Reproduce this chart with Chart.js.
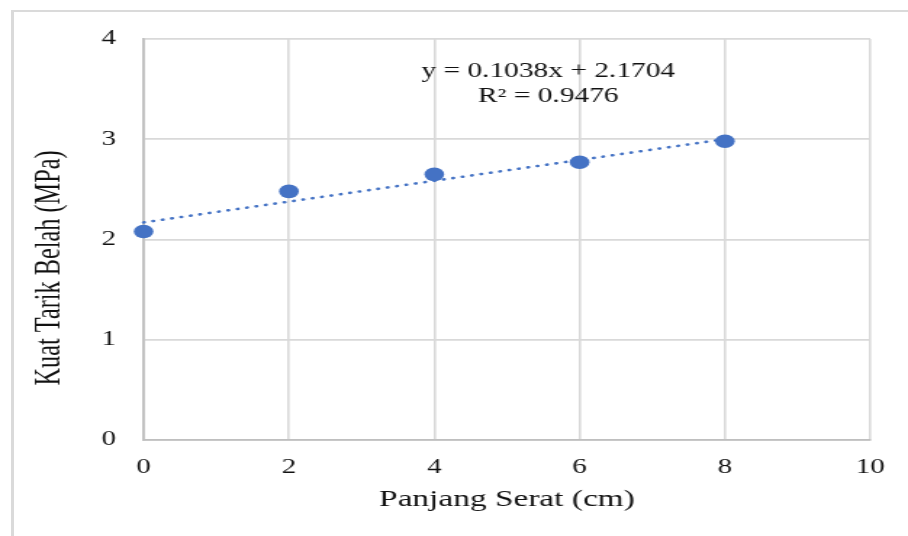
<!DOCTYPE html>
<html>
<head>
<meta charset="utf-8">
<script src="https://cdn.jsdelivr.net/npm/chart.js@4/dist/chart.umd.min.js"></script>
<style>
  html, body { margin: 0; padding: 0; background: #fff; overflow: hidden; }
  #wrap { position: relative; width: 908px; height: 536px; }
  #frame {
    position: absolute; left: 11px; top: 10px; width: 920px; height: 560px;
    border-top: 2px solid #dadada; border-left: 3px solid #dadada;
  }
  /* the source picture is stretched sideways, so the canvas is too */
  #chart { position: absolute; left: 0; top: 0; }
</style>
</head>
<body>
<div id="wrap">
  <div id="frame"></div>
  <canvas id="chart" width="626" height="536" style="width:908px;height:536px"></canvas>
</div>
<script>
// data
const fiberLength = [0, 2, 4, 6, 8];
const tensileStrength = [2.08, 2.48, 2.65, 2.77, 2.98];
const trendX = [0, 8];
const trendY = [2.1704, 3.0008];
const equationLines = ["y = 0.1038x + 2.1704", "R² = 0.9476"];
const xTitle = "Panjang Serat (cm)";
const yTitle = "Kuat Tarik Belah (MPa)";

const blue = "#4472C4";
const serif = "'Liberation Serif', 'Times New Roman', serif";

// equation text + y axis title (sits a bit lower than chart.js would centre it)
const textPlugin = {
  id: "texts",
  afterDraw(chart) {
    const ctx = chart.ctx;
    ctx.save();
    ctx.font = "20.3px " + serif;
    ctx.fillStyle = "#111";
    ctx.textAlign = "center";
    ctx.textBaseline = "middle";
    ctx.fillText(equationLines[0], 378, 72);
    ctx.fillText(equationLines[1], 378, 97);

    ctx.translate(34.5, 268);
    ctx.rotate(-Math.PI / 2);
    ctx.font = "24.3px " + serif;
    ctx.fillText(yTitle, 0, 0);
    ctx.restore();
  }
};

const ctx = document.getElementById("chart").getContext("2d");
new Chart(ctx, {
  type: "scatter",
  data: {
    datasets: [
      {
        label: "data",
        data: fiberLength.map((x, i) => ({ x: x, y: tensileStrength[i] })),
        backgroundColor: blue,
        borderColor: blue,
        pointRadius: 6.8,
        pointHoverRadius: 6.8,
        borderWidth: 0,
        order: 0,
        clip: false
      },
      {
        label: "trend",
        type: "line",
        data: trendX.map((x, i) => ({ x: x, y: trendY[i] })),
        borderColor: blue,
        borderWidth: 2.6,
        borderDash: [0.4, 6.2],
        borderCapStyle: "round",
        pointRadius: 0,
        fill: false,
        order: 1,
        clip: false
      }
    ]
  },
  options: {
    responsive: false,
    animation: false,
    layout: { padding: { left: 20, top: 39, right: 25.5, bottom: 0 } },
    plugins: {
      legend: { display: false },
      tooltip: { enabled: false }
    },
    scales: {
      x: {
        type: "linear",
        min: 0,
        max: 10,
        afterFit(scale) { scale.height = 96; },
        ticks: {
          stepSize: 2,
          padding: 16,
          color: "#111",
          font: { family: serif, size: 20 }
        },
        grid: { color: "#d9d9d9", lineWidth: 1.6, drawTicks: false },
        border: { color: "#bfbfbf", width: 1.8 },
        title: {
          display: true,
          text: xTitle,
          color: "#111",
          font: { family: serif, size: 23 },
          padding: { top: 0, bottom: 22 }
        }
      },
      y: {
        min: 0,
        max: 4,
        afterFit(scale) { scale.width = 79; },
        ticks: {
          stepSize: 1,
          padding: 19,
          color: "#111",
          font: { family: serif, size: 20 }
        },
        grid: { color: "#d9d9d9", lineWidth: 1.8, drawTicks: false },
        border: { color: "#bfbfbf", width: 1.8 }
      }
    }
  },
  plugins: [textPlugin]
});
</script>
</body>
</html>
